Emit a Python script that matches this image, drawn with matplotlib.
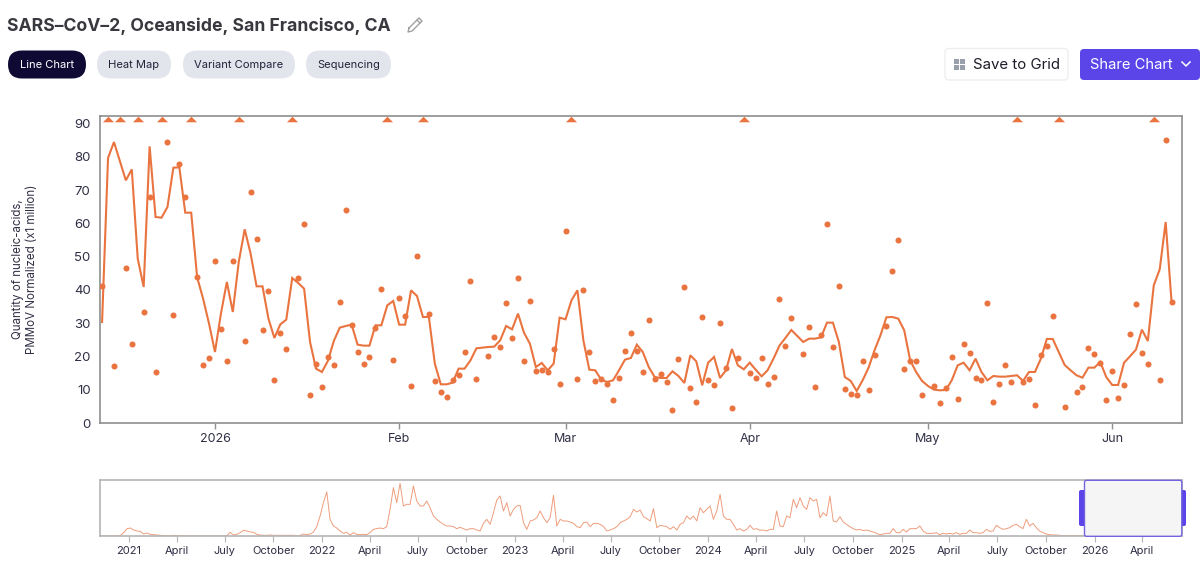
import numpy as np
import pandas as pd
import matplotlib
matplotlib.use("Agg")
import matplotlib.pyplot as plt
import matplotlib.dates as mdates
from matplotlib.patches import FancyBboxPatch, Rectangle
from matplotlib.path import Path

plt.rcParams['font.family'] = ['Inter', 'DejaVu Sans']

nan = float('nan')

# Daily values, first day is 2025-12-13
first_day = "2025-12-13"

line_values = [
    30.4, 79.6, 84.4, 78.7, 72.9, 76.2, 49.4, 40.9, 83.1, 61.9, 61.7, 64.9, 76.7, 76.8, 63.2, 63.2, 43.8, 37.4, 29.9, 21.4,
    32.9, 42.4, 33.4, 48.4, 58.2, 50.9, 41.1, 41.1, 31.4, 25.6, 29.7, 31.1, 43.6, 42.1, 40.4, 24.4, 16.4, 15.4, 18.7, 24.7,
    28.7, 29.2, 29.6, 23.6, 23.3, 23.3, 29.4, 29.4, 35.4, 36.7, 29.6, 29.6, 39.9, 38.2, 31.9, 31.9, 17.9, 11.7, 11.7, 12.2,
    16.4, 16.4, 18.9, 22.5, 22.7, 22.9, 23.0, 24.9, 29.2, 28.2, 32.9, 27.2, 23.9, 16.9, 18.1, 15.9, 17.9, 31.7, 31.2, 36.9,
    39.9, 24.9, 16.1, 15.9, 13.1, 12.4, 12.9, 15.9, 19.1, 19.6, 23.6, 21.4, 16.9, 13.9, 13.6, 13.6, 15.6, 14.2, 12.1, 20.4,
    18.6, 11.4, 18.2, 19.9, 13.6, 15.9, 22.3, 17.4, 16.2, 18.2, 16.1, 14.1, 15.9, 19.4, 23.3, 25.6, 28.0, 26.2, 24.4, 25.4,
    25.4, 25.8, 30.2, 30.2, 24.4, 13.9, 12.7, 9.7, 12.9, 16.7, 21.9, 26.4, 31.8, 31.9, 31.4, 27.9, 18.9, 15.4, 12.7, 11.2,
    10.1, 9.9, 10.0, 12.9, 17.4, 18.2, 15.9, 19.4, 15.4, 12.9, 14.2, 14.0, 14.0, 14.2, 14.4, 12.7, 15.4, 15.4, 19.4, 25.3,
    25.3, 21.4, 17.5, 15.9, 14.4, 13.7, 16.7, 16.7, 18.4, 13.9, 11.5, 11.5, 18.2, 20.1, 22.1, 28.1, 24.7, 41.4, 46.2, 60.4,
    36.3,
]

dot_values = [
    41.3, nan, 17.2, nan, 46.7, 23.8, nan, 33.3, 68.0, 15.4, nan, 84.4, 32.6, 77.7, 67.8, nan, 43.8, 17.5, 19.6, 48.8,
    28.3, 18.6, 48.8, nan, 24.6, 69.5, 55.4, 27.9, 39.6, 12.9, 27.1, 22.4, nan, 43.6, 59.9, 8.5, 17.7, 11.0, 19.9, 17.5,
    36.5, 64.0, 29.6, 21.5, 17.7, 19.8, 28.5, 40.3, nan, 19.0, 37.7, 32.1, 11.1, 50.1, nan, 32.9, 12.7, 9.4, 8.0, 13.1,
    14.5, 21.3, 42.8, 13.4, nan, 20.1, 25.9, 22.8, 36.0, 25.6, 43.5, 18.8, 36.7, 15.8, 16.0, 15.3, 22.3, 11.9, 57.6, nan,
    13.4, 40.0, 21.4, 12.6, 13.4, 11.8, 7.0, 13.7, 21.8, 27.1, 21.8, 15.4, 31.1, 13.4, 14.7, 12.5, 4.0, 19.3, 40.9, 10.7,
    6.5, 31.9, 12.9, 11.5, 30.0, 16.5, 4.6, 19.6, nan, 15.2, 13.7, 19.7, 11.8, 13.9, 37.2, 23.2, 31.7, nan, 20.9, 28.8,
    10.9, 26.4, 59.7, 22.8, 41.1, 10.2, 8.7, 8.5, 18.7, 10.0, 20.5, nan, 29.1, 45.8, 55.1, 16.3, 18.7, 18.6, 8.4, nan,
    11.1, 6.0, 10.6, 19.9, 7.2, 23.8, 21.0, 13.6, 13.1, 36.1, 6.5, 11.9, 17.6, 12.5, nan, 12.4, 13.3, 5.5, 20.4, 23.3,
    32.2, nan, 5.0, nan, 9.5, 10.9, 22.5, 20.8, 18.2, 7.1, 15.7, 7.6, 11.5, 26.9, 35.7, 21.2, 17.8, nan, 12.9, 85.1,
    36.3,
]

# Days whose reading is above the top of the axis
off_scale_dates = ["2025-12-14", "2025-12-16", "2025-12-19", "2025-12-23", "2025-12-28", "2026-01-05", "2026-01-14",
                   "2026-01-30", "2026-02-05", "2026-03-02", "2026-03-31", "2026-05-16", "2026-05-23", "2026-06-08"]

main_ticks = ["2026-01-01", "2026-02-01", "2026-03-01", "2026-04-01", "2026-05-01", "2026-06-01"]
main_tick_labels = ["2026", "Feb", "Mar", "Apr", "May", "Jun"]
y_ticks = [0, 10, 20, 30, 40, 50, 60, 70, 80, 90]

# Overview strip, heights (about one reading every 6 days)
overview_edges = ["2020-11-08", "2022-03-14", "2023-07-19", "2024-11-21", "2026-03-27"]
overview_a = [0, 0, 0, 0, 0, 0, 2, 10, 22, 24, 18, 15, 14, 6, 9, 5, 4, 3, 2, 1, 1, 1, 2, 1, 1, 1, 0, 0, 0, 0, 0, 0, 0, 0,
              0, 0, 0, 0, 1, 11, 3, 5, 10, 17, 15, 12, 11, 5, 3, 2, 2, 3, 2, 2, 2, 2, 2, 2, 2, 1, 2, 6, 4, 6, 12, 28, 60,
              100, 132, 50, 30, 24, 15, 8, 11, 3, 10, 5]
overview_b = [4, 5, 4, 10, 20, 22, 24, 22, 28, 80, 145, 100, 158, 90, 95, 95, 150, 105, 90, 90, 105, 85, 60, 50, 42, 35,
              30, 30, 28, 22, 26, 22, 18, 22, 22, 18, 15, 38, 50, 35, 70, 108, 120, 75, 100, 60, 80, 90, 92, 40, 20, 45,
              48, 55, 75, 55, 40, 55, 122, 30, 50, 45, 45, 42, 38, 28, 25, 40, 42, 28, 38, 38, 35, 28, 15, 18, 22, 28]
overview_c = [40, 45, 50, 58, 80, 72, 78, 58, 52, 45, 82, 25, 32, 30, 28, 20, 28, 18, 35, 40, 60, 50, 60, 45, 85, 70, 80,
              90, 50, 75, 125, 60, 50, 50, 35, 18, 22, 15, 20, 32, 20, 22, 17, 18, 15, 20, 20, 75, 30, 28, 60, 55, 110,
              85, 115, 90, 80, 115, 105, 110, 55, 70, 60, 120, 45, 42, 58, 42, 35, 28, 22, 18, 20, 16, 18, 15, 12, 8]
overview_d = [4, 6, 8, 8, 22, 10, 10, 20, 12, 22, 22, 22, 30, 15, 8, 8, 8, 10, 4, 8, 6, 8, 6, 10, 5, 8, 8, 18, 10, 10, 8,
              10, 20, 14, 15, 32, 25, 20, 22, 25, 32, 35, 28, 22, 50, 30, 38, 25, 15, 10, 6, 4, 3, 3, 2, 1, 1, 1, 1, 1, 1,
              1, 1, 1, 1, 1, 1, 1, 1, 1, 1, 1, 1, 1, 1, 1, 1, 1]
overview_quarters = ["2021", "April", "July", "October", "2022", "April", "July", "October", "2023", "April", "July",
                     "October", "2024", "April", "July", "October", "2025", "April", "July", "October", "2026", "April"]

ORANGE = '#e9743f'
TEXT = '#2f2f45'
PURPLE = '#5b45e8'


def px_axes(fig, left, top, right, bottom, **kwargs):
    # axes from pixel edges, y counted from the top of the picture
    return fig.add_axes([left / 1200, 1 - bottom / 568, (right - left) / 1200, (bottom - top) / 568], **kwargs)


def chip(ax, left, top, right, bottom, fill, edge='none', radius=None):
    radius = (bottom - top) / 2 if radius is None else radius
    ax.add_patch(FancyBboxPatch((left + radius, top + radius), right - left - 2 * radius, bottom - top - 2 * radius,
                                boxstyle=f"round,pad={radius}", fc=fill, ec=edge, lw=1))


fig = plt.figure(figsize=(12, 5.68), dpi=100)

# Page furniture, drawn in pixel coordinates
ui = fig.add_axes([0, 0, 1, 1])
ui.set_xlim(0, 1200)
ui.set_ylim(568, 0)
ui.axis('off')

ui.text(7, 26, "SARS–CoV–2, Oceanside, San Francisco, CA", fontsize=12.7, fontweight='bold', color='#38383f',
        va='center', ha='left')

# pencil icon
ui.plot([409, 419, 422, 412, 408, 409], [28, 18, 21, 31, 32, 28], color='#a0a0a0', lw=1)
ui.plot([417, 420], [20, 23], color='#a0a0a0', lw=1)

chips = [(8, 86, "Line Chart", '#0f0a33', 'white'), (97, 171, "Heat Map", '#e3e5ed', '#23233a'),
         (183, 295, "Variant Compare", '#e3e5ed', '#23233a'), (306, 391, "Sequencing", '#e3e5ed', '#23233a')]
for left, right, label, fill, color in chips:
    chip(ui, left, 50.5, right, 78.5, fill)
    ui.text((left + right) / 2, 65, label, fontsize=8.05, color=color, ha='center', va='center')

chip(ui, 945, 48.5, 1068, 80, 'white', edge='#eeeeee', radius=4)
for gx, gy in [(954, 59), (960, 59), (954, 65), (960, 65)]:
    ui.add_patch(Rectangle((gx, gy), 5, 5, fc='#9aa0ab', ec='none'))
ui.text(973, 65, "Save to Grid", fontsize=10.8, color='#1c1c28', ha='left', va='center')

chip(ui, 1080, 49, 1200, 80, PURPLE, radius=4)
ui.text(1090, 65, "Share Chart", fontsize=10.6, color='white', ha='left', va='center')
ui.plot([1182, 1186, 1190], [62, 66, 62], color='white', lw=1.1)

# Main chart
days = pd.date_range(first_day, periods=len(line_values), freq="D")
ax = px_axes(fig, 100.3, 115.7, 1181.7, 423.3)
ax.patch.set_alpha(0)
ax.plot(days, line_values, color=ORANGE, lw=1.5, solid_joinstyle='miter')
ax.scatter(days, dot_values, color=ORANGE, s=19, linewidths=0, zorder=3)

flat_triangle = Path([(-1, -0.5), (1, -0.5), (0, 0.5), (-1, -0.5)])
ax.plot(pd.to_datetime(off_scale_dates), [0.988] * len(off_scale_dates), ls='none', marker=flat_triangle, ms=8,
        color=ORANGE, mew=0, transform=ax.get_xaxis_transform())

jan_1 = pd.Timestamp("2026-01-01")
ax.set_xlim(jan_1 - pd.Timedelta(days=19.3), jan_1 + pd.Timedelta(days=162.7))
ax.set_ylim(0, 92.3)
ax.set_xticks(pd.to_datetime(main_ticks))
ax.set_xticklabels(main_tick_labels)
ax.set_yticks(y_ticks)
ax.tick_params(axis='x', length=4, width=1, color='#8f8f8f', labelsize=9, labelcolor=TEXT, pad=3)
ax.tick_params(axis='y', length=0, labelsize=9.5, labelcolor=TEXT, pad=7)
for spine in ax.spines.values():
    spine.set_color('#8f8f8f')
    spine.set_linewidth(1.2)
ax.set_ylabel("Quantity of nucleic-acids,\nPMMoV Normalized (x1 million)", fontsize=8.3, color=TEXT, labelpad=26)

# Overview strip with the selected window
overview_x, overview_y = [], []
segments = [overview_a, overview_b, overview_c, overview_d]
for i, heights in enumerate(segments):
    start = mdates.date2num(pd.Timestamp(overview_edges[i]))
    stop = mdates.date2num(pd.Timestamp(overview_edges[i + 1]))
    overview_x.extend(np.linspace(start, stop, len(heights), endpoint=False))
    overview_y.extend(heights)

mini = px_axes(fig, 100.4, 480, 1181.8, 536)
mini.plot(overview_x, overview_y, color='#ee9d7c', lw=0.7)
mini.xaxis_date()
mini.set_xlim(pd.Timestamp("2020-11-08"), pd.Timestamp("2026-06-15"))
mini.set_ylim(0, 168)
mini.set_yticks([])
quarters = pd.date_range("2021-01-01", periods=len(overview_quarters), freq="QS")
mini.set_xticks(quarters)
mini.set_xticklabels(overview_quarters)
mini.tick_params(axis='x', length=4, width=0.8, color='#b5b5b5', labelsize=8, labelcolor=TEXT, pad=3)
for spine in mini.spines.values():
    spine.set_color('#b5b5b5')
    spine.set_linewidth(1.2)

# selection window and handles sit on top of the strip
top_ui = fig.add_axes([0, 0, 1, 1], zorder=5)
top_ui.set_xlim(0, 1200)
top_ui.set_ylim(568, 0)
top_ui.axis('off')
chip(top_ui, 1079, 490, 1086, 526, PURPLE, radius=2)
chip(top_ui, 1181, 490, 1186, 526, PURPLE, radius=2)
chip(top_ui, 1084.5, 480.3, 1181.8, 536.3, '#f5f5f6', edge='#7263e0', radius=2)

plt.savefig("out.png", dpi=100)
